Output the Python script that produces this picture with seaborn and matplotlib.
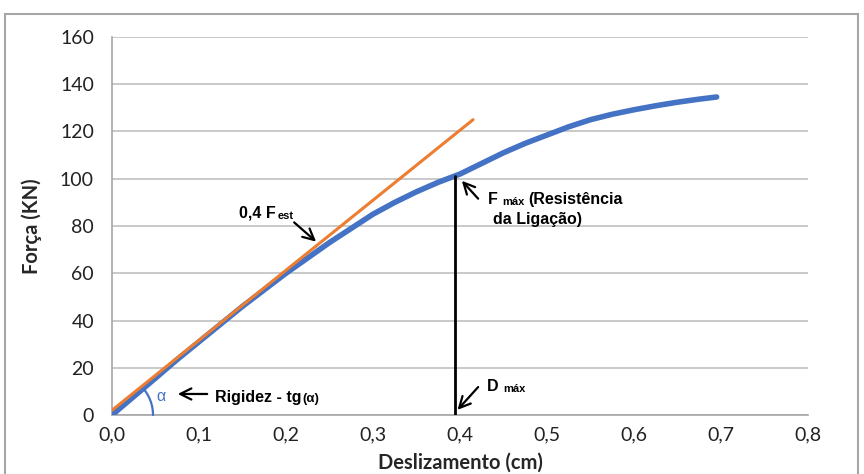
import numpy as np
import pandas as pd
import seaborn as sns
import matplotlib.pyplot as plt
from matplotlib.patches import Rectangle

# Data
deslizamento = [0.0, 0.025, 0.05, 0.075, 0.10, 0.125, 0.15, 0.175, 0.20, 0.225, 0.25,
                0.275, 0.30, 0.325, 0.35, 0.375, 0.40, 0.425, 0.45, 0.475, 0.50,
                0.525, 0.55, 0.575, 0.60, 0.625, 0.65, 0.675, 0.695]
forca = [0.0, 7.8, 15.6, 23.5, 31.0, 38.5, 46.0, 53.0, 60.0, 66.5, 73.0,
         79.0, 85.0, 90.0, 94.5, 98.5, 102.0, 106.5, 111.0, 115.0, 118.5,
         122.0, 125.0, 127.3, 129.2, 130.9, 132.4, 133.7, 134.6]

rigidez_x = [0.0, 0.415]
rigidez_y = [2.0, 125.0]

D_MAX = 0.394
F_MAX = 101.2

x_ticks = [0.0, 0.1, 0.2, 0.3, 0.4, 0.5, 0.6, 0.7, 0.8]
x_tick_labels = ["0,0", "0,1", "0,2", "0,3", "0,4", "0,5", "0,6", "0,7", "0,8"]
y_ticks = [0, 20, 40, 60, 80, 100, 120, 140, 160]

BLUE = "#4472C4"
ORANGE = "#ED7D31"
GRID = "#c0c0c0"

sns.set_style("white")
plt.rcParams["font.family"] = ["Lato", "DejaVu Sans"]

curva = pd.DataFrame({"x": deslizamento, "y": forca})
reta = pd.DataFrame({"x": rigidez_x, "y": rigidez_y})

fig = plt.figure(figsize=(8.64, 4.74), dpi=100)
ax = fig.add_axes([112 / 864, 59 / 474, 696 / 864, 378 / 474])

# chart area border (Excel style)
fig.patches.append(Rectangle((5 / 864, -0.05), 853 / 864, 1.05 - 14 / 474,
                             transform=fig.transFigure, fill=False,
                             edgecolor="#a6a6a6", lw=1.5))

sns.lineplot(data=curva, x="x", y="y", ax=ax, color=BLUE, lw=4, sort=False, zorder=3,
             solid_capstyle="round", solid_joinstyle="round")
sns.lineplot(data=reta, x="x", y="y", ax=ax, color=ORANGE, lw=2.2, zorder=4,
             solid_capstyle="round")

ax.plot([D_MAX, D_MAX], [0, F_MAX], color="black", lw=2, zorder=5)

ax.set_xlim(0, 0.8)
ax.set_ylim(0, 160)
ax.set_xticks(x_ticks)
ax.set_xticklabels(x_tick_labels)
ax.set_yticks(y_ticks)
ax.yaxis.grid(True, color=GRID, lw=1.2)
ax.set_axisbelow(True)
ax.tick_params(axis="both", labelsize=14, length=5, width=1, color="#a6a6a6",
               direction="out", labelcolor="#222222")
ax.tick_params(axis="y", pad=8)
for side in ["top", "right"]:
    ax.spines[side].set_visible(False)
for side in ["left", "bottom"]:
    ax.spines[side].set_color("#a6a6a6")
    ax.spines[side].set_linewidth(1.2)

ax.set_xlabel("Deslizamento (cm)", fontsize=14.5, fontweight="bold")
ax.set_ylabel("Força (KN)", fontsize=14.5, fontweight="bold")
ax.xaxis.set_label_coords(0.5, -0.1)
ax.yaxis.set_label_coords(-0.10, 0.5)

ann = dict(family=["Liberation Sans", "DejaVu Sans"], fontweight="bold", color="black")
arrow = dict(arrowstyle="->,head_length=0.8,head_width=0.4", color="black", lw=1.6)

# F max
ax.annotate("", xy=(0.400, 100.0), xytext=(0.423, 90.7), arrowprops=arrow)
t = ax.text(0.432, 89.5, "F", fontsize=11.5, va="baseline", **ann)
t = ax.annotate("máx", xy=(1, 0), xycoords=t, xytext=(3, 0), textcoords="offset points",
                fontsize=8, va="bottom", **ann)
ax.annotate("(Resistência", xy=(1, 0), xycoords=t, xytext=(3, 0), textcoords="offset points",
            fontsize=11.5, va="bottom", **ann)
ax.text(0.438, 81.0, "da Ligação)", fontsize=11.5, va="baseline", **ann)

# 0,4 F est
ax.annotate("", xy=(0.237, 72.6), xytext=(0.207, 82.3), arrowprops=arrow)
t = ax.text(0.146, 83.5, "0,4 F", fontsize=11.5, va="baseline", **ann)
ax.annotate("est", xy=(1, 0), xycoords=t, xytext=(1, 0), textcoords="offset points",
            fontsize=8, va="bottom", **ann)

# Rigidez
ax.annotate("", xy=(0.0724, 8.9), xytext=(0.1126, 8.9), arrowprops=arrow)
t = ax.text(0.118, 5.5, "Rigidez - tg", fontsize=11.5, va="baseline", **ann)
ax.annotate("(α)", xy=(1, 0), xycoords=t, xytext=(1, 0), textcoords="offset points",
            fontsize=9.5, va="bottom", **ann)
ax.text(0.056, 8.0, "α", fontsize=11.5, color=BLUE, va="center", ha="center",
        family=["Liberation Sans", "DejaVu Sans"])

# angle arc, 41 px radius around the origin
px_x = 0.8 / 696
px_y = 160 / 378
theta = np.radians(np.linspace(0, 39, 30))
ax.plot(41 * np.cos(theta) * px_x, 41 * np.sin(theta) * px_y, color=BLUE, lw=1.6,
        zorder=6, clip_on=False)

# D max
ax.annotate("", xy=(0.395, 1.3), xytext=(0.423, 12.7), arrowprops=arrow)
t = ax.text(0.431, 10.1, "D", fontsize=11.5, va="baseline", **ann)
ax.annotate("máx", xy=(1, 0), xycoords=t, xytext=(3, 0), textcoords="offset points",
            fontsize=8, va="bottom", **ann)

fig.savefig("out.png", dpi=100)
